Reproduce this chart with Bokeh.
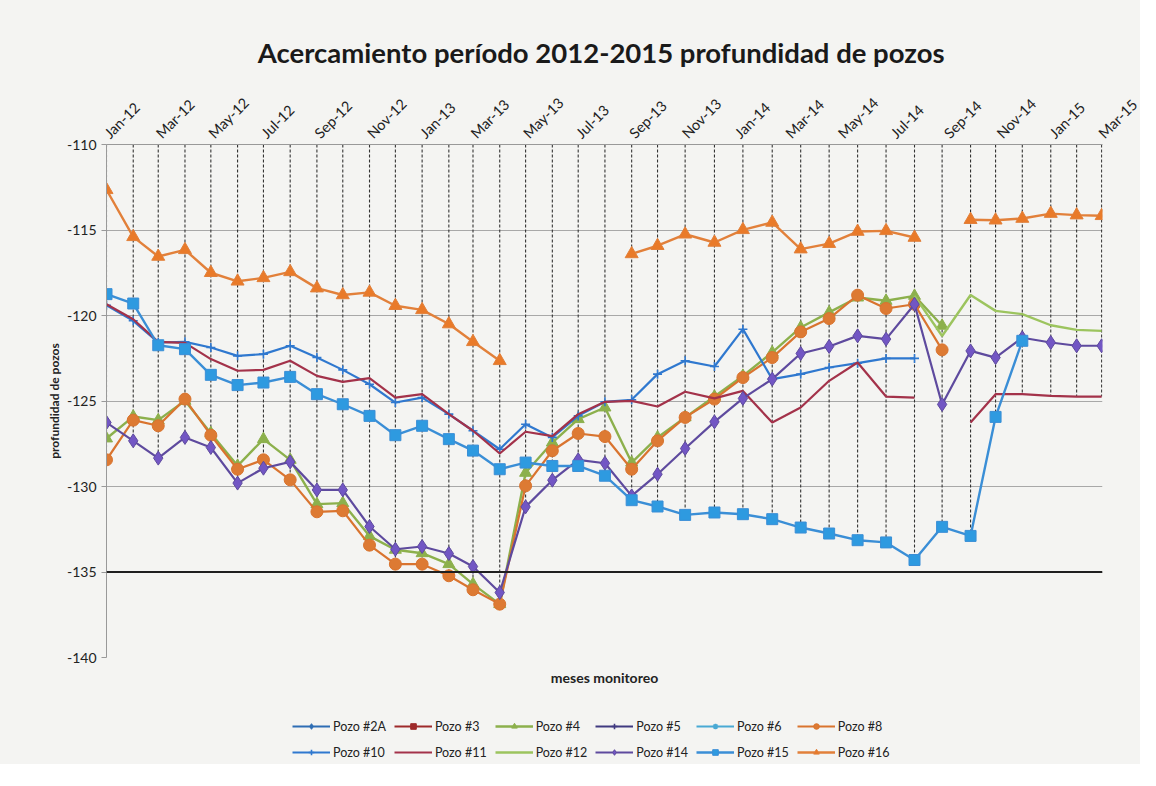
import numpy as np
import pandas as pd
from math import pi
from bokeh.plotting import figure
from bokeh.layouts import column
from bokeh.models import (ColumnDataSource, DatetimeTickFormatter, FixedTicker, Legend, LegendItem,
                          Title, Span, Range1d, PrintfTickFormatter)
from bokeh.embed import file_html
from bokeh.resources import INLINE

N = None

# measurement dates (as placed on the chart's date axis)
fechas = ["2012-01-01", "2012-02-01", "2012-03-01", "2012-04-01", "2012-05-01", "2012-06-01",
          "2012-07-01", "2012-08-01", "2012-09-01", "2012-10-01", "2012-11-01", "2012-12-01",
          "2013-01-01", "2013-02-01", "2013-03-01", "2013-04-01", "2013-05-01", "2013-06-01",
          "2013-07-01", "2013-08-01", "2013-09-01", "2013-10-01", "2013-11-02", "2013-12-06",
          "2014-01-08", "2014-02-11", "2014-03-16", "2014-04-18", "2014-05-21", "2014-06-23",
          "2014-07-26", "2014-08-27", "2014-09-29", "2014-10-28", "2014-11-28", "2014-12-31",
          "2015-01-30", "2015-02-28"]

tick_meses = ["2012-01-01", "2012-03-01", "2012-05-01", "2012-07-01", "2012-09-01", "2012-11-01",
              "2013-01-01", "2013-03-01", "2013-05-01", "2013-07-01", "2013-09-01", "2013-11-01",
              "2014-01-01", "2014-03-01", "2014-05-01", "2014-07-01", "2014-09-01", "2014-11-01",
              "2015-01-01", "2015-03-01"]

y_ticks = [-140, -135, -130, -125, -120, -115, -110]

pozo_2A = [N] * 38
pozo_3 = [N] * 38
pozo_4 = [-127.19, -125.91, -126.12, -124.99, -126.88, -128.79, -127.23, -128.44, -131.03, -130.97,
          -132.9, -133.7, -133.9, -134.54, -135.71, -136.88, -129.2, -127.43, -126.06, -125.38,
          -128.6, -127.13, -125.96, -124.74, -123.53, -122.16, -120.70, -119.82, -118.95, -119.14,
          -118.85, -120.6, N, N, N, N, N, N]
pozo_5 = [N] * 38
pozo_6 = [N] * 38
pozo_8 = [-128.44, -126.12, -126.45, -124.89, -127.0, -128.99, -128.44, -129.61, -131.48, -131.42,
          -133.43, -134.54, -134.54, -135.22, -136.04, -136.88, -129.96, -127.91, -126.9, -127.08,
          -128.99, -127.33, -125.96, -124.89, -123.63, -122.46, -120.96, -120.18, -118.81, -119.59,
          -119.34, -122.01, N, N, N, N, N, N]
pozo_10 = [-119.4, -120.31, -121.58, -121.54, -121.87, -122.36, -122.26, -121.77, -122.46, -123.18,
           -124.02, -125.09, -124.8, -125.77, -126.74, -127.82, -126.36, -127.13, -125.87, -125.05,
           -124.93, -123.43, -122.65, -122.98, -120.8, -123.72, -123.43, -123.04, -122.79, -122.51,
           -122.51, N, N, N, N, N, N, N]
pozo_11 = [-119.34, -120.22, -121.54, -121.6, -122.55, -123.23, -123.18, -122.65, -123.53, -123.88,
           -123.66, -124.8, -124.6, -125.77, -126.74, -128.07, -126.8, -127.05, -125.77, -125.05,
           -124.99, -125.32, -124.46, -124.85, -124.41, -126.26, -125.38, -123.82, -122.75, -124.74,
           -124.8, N, -126.26, -124.6, -124.6, -124.7, -124.74, -124.74]
pozo_12 = [N] * 30 + [-118.85, -121.2, -118.8, -119.73, -119.92, -120.57, -120.84, -120.9]
pozo_14 = [-126.26, -127.33, -128.34, -127.13, -127.72, -129.8, -128.93, -128.56, -130.2, -130.2,
           -132.34, -133.67, -133.51, -133.92, -134.68, -136.2, -131.19, -129.63, -128.44, -128.64,
           -130.55, -129.28, -127.78, -126.22, -124.85, -123.72, -122.22, -121.81, -121.19, -121.38,
           -119.34, -125.2, -122.07, -122.46, -121.3, -121.58, -121.77, -121.77]
pozo_15 = [-118.75, -119.3, -121.74, -121.97, -123.47, -124.07, -123.92, -123.59, -124.6, -125.19,
           -125.87, -127.0, -126.45, -127.23, -127.9, -128.99, -128.6, -128.8, -128.8, -129.37,
           -130.8, -131.17, -131.66, -131.52, -131.62, -131.91, -132.4, -132.75, -133.14, -133.27,
           -134.3, -132.36, -132.89, -125.93, -121.48, N, N, N]
pozo_16 = [-112.65, -115.4, -116.55, -116.16, -117.5, -118.0, -117.8, -117.45, -118.4, -118.8,
           -118.65, -119.43, -119.67, -120.5, -121.54, -122.65, N, N, N, N,
           -116.4, -115.92, -115.25, -115.73, -114.99, -114.56, -116.12, -115.8, -115.09, -115.05,
           -115.44, N, -114.4, -114.43, -114.33, -114.04, -114.13, -114.17]

nombres = ["Pozo #2A", "Pozo #3", "Pozo #4", "Pozo #5", "Pozo #6", "Pozo #8",
           "Pozo #10", "Pozo #11", "Pozo #12", "Pozo #14", "Pozo #15", "Pozo #16"]
valores = [pozo_2A, pozo_3, pozo_4, pozo_5, pozo_6, pozo_8,
           pozo_10, pozo_11, pozo_12, pozo_14, pozo_15, pozo_16]

# styles: (line color, marker, marker fill, marker size, line width)
estilos = [
    ("#2E6DB4", "diamond", "#2E6DB4", 13, 2.2),
    ("#9E2A2B", "square", "#9E2A2B", 9, 2.2),
    ("#8CB04C", "triangle", "#8CB04C", 12, 2.4),
    ("#403A80", "cross", "#403A80", 10, 2.0),
    ("#49A9D4", "asterisk", "#49A9D4", 10, 2.0),
    ("#D9742F", "circle", "#DD7A33", 12, 2.2),
    ("#2F78CF", "cross", "#2F78CF", 9, 2.2),
    ("#A3324A", None, None, 0, 2.2),
    ("#9CC45E", None, None, 0, 2.4),
    ("#5E4A9E", "diamond", "#7256C4", 14, 2.2),
    ("#3A8ED6", "square", "#2E9AE0", 11, 2.4),
    ("#E2803A", "triangle", "#E97A29", 13, 2.4),
]

FONT = "Lato"
BG = "#F4F4F2"

x = pd.to_datetime(fechas)
src = ColumnDataSource(dict(x=x))
cols = []
for i, v in enumerate(valores):
    col = "s%d" % i
    src.data[col] = np.array([np.nan if a is None else a for a in v], dtype=float)
    cols.append(col)

# drop lines: from the top axis to the lowest point at each date
stack = np.vstack([src.data[c] for c in cols])
filled = np.where(np.isnan(stack), np.inf, stack)
ymin = filled.min(axis=0)
drop = ColumnDataSource(dict(x=x, y0=np.full(len(x), -110.0), y1=ymin))


def draw_series(fig, col, style):
    lc, mk, mf, ms, lw = style
    rs = [fig.line("x", col, source=src, line_color=lc, line_width=lw)]
    if mk is not None:
        if mk in ("cross", "asterisk"):
            rs.append(fig.scatter("x", col, source=src, marker=mk, size=ms, line_color=lc,
                                  line_width=1.6))
        else:
            rs.append(fig.scatter("x", col, source=src, marker=mk, size=ms, fill_color=mf,
                                  line_color=lc, line_width=1))
    return rs


p = figure(width=1140, height=700, x_axis_type="datetime", x_axis_location="above",
           output_backend="svg", toolbar_location=None,
           x_range=Range1d(pd.Timestamp("2012-01-01"), pd.Timestamp("2015-03-01")),
           y_range=Range1d(-140, -110),
           min_border_left=106, min_border_right=38, min_border_top=144, min_border_bottom=43,
           background_fill_color=BG, border_fill_color=BG, outline_line_color=None)

p.title.text = "Acercamiento  período 2012-2015 profundidad de pozos"
p.title.align = "center"
p.title.text_font = FONT
p.title.text_font_size = "27.5px"
p.title.text_font_style = "bold"
p.title.text_color = "#1a1a1a"
p.title.standoff = 34

xa = p.xaxis[0]
xa.ticker = FixedTicker(ticks=[pd.Timestamp(t).value / 1e6 for t in tick_meses])
xa.formatter = DatetimeTickFormatter(days="%b-%y", months="%b-%y", years="%b-%y")
xa.major_label_orientation = pi / 4
xa.major_label_text_font = FONT
xa.major_label_text_font_size = "14.5px"
xa.major_label_text_color = "#222222"
xa.major_label_standoff = 9
xa.axis_line_color = "#999999"
xa.major_tick_out = 0
xa.major_tick_in = 0
xa.minor_tick_line_color = None

ya = p.yaxis[0]
ya.ticker = FixedTicker(ticks=y_ticks)
ya.formatter = PrintfTickFormatter(format="%d")
ya.major_label_text_font = FONT
ya.major_label_text_font_size = "14px"
ya.major_label_text_color = "#222222"
ya.axis_line_color = "#999999"
ya.major_tick_line_color = "#999999"
ya.major_tick_out = 5
ya.major_tick_in = 0
ya.minor_tick_line_color = None
ya.axis_label = "profundidad de pozos"
ya.axis_label_text_font = FONT
ya.axis_label_text_font_size = "12px"
ya.axis_label_text_font_style = "bold"
ya.axis_label_text_color = "#222222"
ya.axis_label_standoff = 2

p.xgrid.grid_line_color = None
p.ygrid.grid_line_color = "#A8A8A8"
p.ygrid.grid_line_width = 1.2

p.add_layout(Span(location=-135, dimension="width", line_color="#1f1f1f", line_width=2))

p.segment(x0="x", y0="y0", x1="x", y1="y1", source=drop, line_color="#333333",
          line_dash="3 2", line_width=1.1)

for col, st in zip(cols, estilos):
    draw_series(p, col, st)

p.add_layout(Title(text="meses monitoreo", align="center", text_font=FONT,
                   text_font_size="14px", text_font_style="bold", text_color="#222222",
                   standoff=19), "below")

# legend strip under the chart (same series, shown only as legend keys)
pl = figure(width=1140, height=64, output_backend="svg", toolbar_location=None,
            x_range=Range1d(0, 1), y_range=Range1d(0, 1), min_border=0,
            background_fill_color=BG, border_fill_color=BG, outline_line_color=None)
pl.axis.visible = False
pl.grid.grid_line_color = None
items = []
for name, col, st in zip(nombres, cols, estilos):
    items.append(LegendItem(label=name, renderers=draw_series(pl, col, st)))

legend = Legend(items=items, orientation="horizontal", ncols=6, location=(186, 3),
                label_text_font=FONT, label_text_font_size="12.5px", label_text_color="#222222",
                glyph_width=38, glyph_height=14, label_standoff=3, spacing=8, padding=2,
                margin=0, background_fill_alpha=0, border_line_color=None, label_height=18)
pl.add_layout(legend)

layout = column(p, pl, spacing=0, styles={"background-color": BG})
open("out.html", "w").write(file_html(layout, INLINE))
